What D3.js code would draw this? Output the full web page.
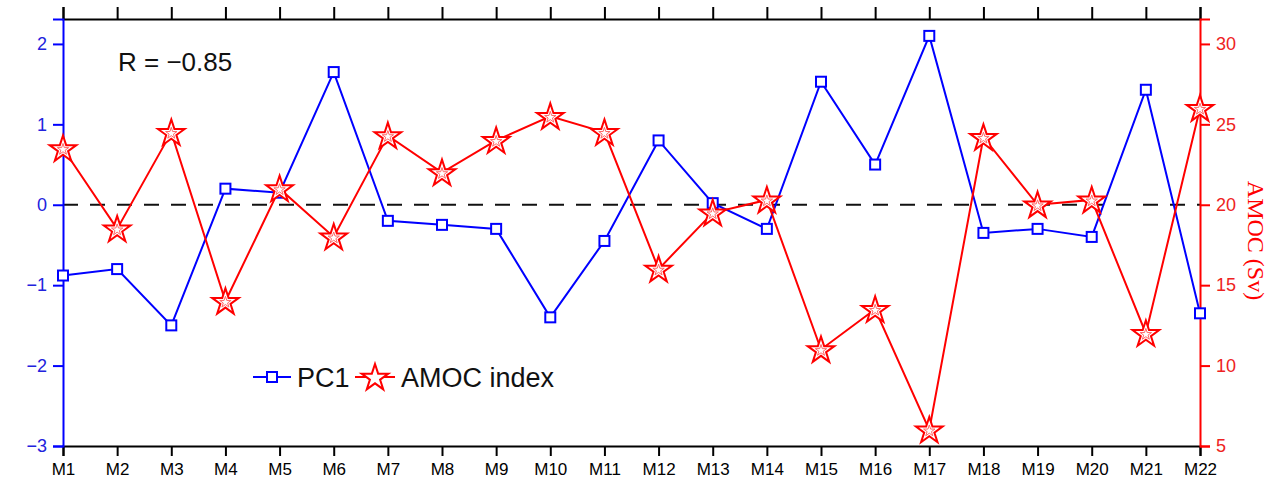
<!DOCTYPE html>
<html>
<head>
<meta charset="utf-8">
<script src="https://cdn.jsdelivr.net/npm/d3@7"></script>
<style>
  body { margin: 0; background: #fff; }
  svg { display: block; }
</style>
</head>
<body>
<div id="chart"></div>
<script>
// model names
const models = ["M1","M2","M3","M4","M5","M6","M7","M8","M9","M10","M11",
                "M12","M13","M14","M15","M16","M17","M18","M19","M20","M21","M22"];
// PC1 (left axis)
const pc1 = [-0.88, -0.8, -1.5, 0.2, 0.15, 1.65, -0.2, -0.25, -0.3, -1.4, -0.45,
             0.8, 0.02, -0.3, 1.53, 0.5, 2.1, -0.35, -0.3, -0.4, 1.43, -1.35];
// AMOC index in Sv (right axis)
const amoc = [23.5, 18.5, 24.5, 14, 21, 18, 24.3, 22, 24, 25.5, 24.5,
              16, 19.5, 20.3, 11, 13.5, 6, 24.2, 20, 20.3, 12, 26];
const leftTicks = [-3, -2, -1, 0, 1, 2];
const rightTicks = [5, 10, 15, 20, 25, 30];

const W = 1271, H = 483;
const margin = { top: 19, right: 71, bottom: 37, left: 63 };
const width = W - margin.left - margin.right;
const height = H - margin.top - margin.bottom;

const svg = d3.select("#chart").append("svg")
    .attr("width", W).attr("height", H);
const g = svg.append("g").attr("transform", `translate(${margin.left},${margin.top})`);

const x = d3.scalePoint().domain(models).range([0, width]);
const yL = d3.scaleLinear().domain([-3, 2.31]).range([height, 0]);
const yR = d3.scaleLinear().domain([5, 31.55]).range([height, 0]);

const font = "'Liberation Sans', Arial, sans-serif";

// zero line (dashed)
g.append("line")
    .attr("x1", 0).attr("x2", width)
    .attr("y1", yL(0)).attr("y2", yL(0))
    .attr("stroke", "#111").attr("stroke-width", 2)
    .attr("stroke-dasharray", "15,12");

// axes
const bottomAxis = g.append("g").attr("transform", `translate(0,${height})`)
    .call(d3.axisBottom(x).tickSize(10).tickPadding(7));
bottomAxis.select(".domain").attr("stroke", "#000").attr("stroke-width", 2);
bottomAxis.selectAll(".tick line").attr("stroke", "#000").attr("stroke-width", 2);
bottomAxis.selectAll("text").attr("font-family", font).attr("font-size", 17).attr("fill", "#000");

const topAxis = g.append("g")
    .call(d3.axisTop(x).tickSize(12).tickFormat(""));
topAxis.select(".domain").attr("stroke", "#000").attr("stroke-width", 2);
topAxis.selectAll(".tick line").attr("stroke", "#000").attr("stroke-width", 2);

const leftAxis = g.append("g")
    .call(d3.axisLeft(yL).tickValues(leftTicks).tickSize(10).tickPadding(6)
        .tickFormat(d => d < 0 ? "\u2212" + Math.abs(d) : d));
leftAxis.select(".domain").attr("stroke", "#0000ff").attr("stroke-width", 2);
leftAxis.selectAll(".tick line").attr("stroke", "#0000ff").attr("stroke-width", 2);
leftAxis.selectAll("text").attr("font-family", font).attr("font-size", 18).attr("fill", "#2222dd");

const rightAxis = g.append("g").attr("transform", `translate(${width},0)`)
    .call(d3.axisRight(yR).tickValues(rightTicks).tickSize(10).tickPadding(6));
rightAxis.select(".domain").attr("stroke", "#ff0000").attr("stroke-width", 2);
rightAxis.selectAll(".tick line").attr("stroke", "#ff0000").attr("stroke-width", 2);
rightAxis.selectAll("text").attr("font-family", font).attr("font-size", 18).attr("fill", "#ee2222");

// right axis title
svg.append("text")
    .attr("transform", `translate(1248,${margin.top + height / 2 + 8}) rotate(90)`)
    .attr("text-anchor", "middle")
    .attr("font-family", "'Liberation Serif', 'Times New Roman', serif")
    .attr("font-size", 24)
    .attr("fill", "#ff0000")
    .text("AMOC (Sv)");

// PC1 line + square markers
g.append("path")
    .datum(pc1)
    .attr("fill", "none").attr("stroke", "#0000ff").attr("stroke-width", 2)
    .attr("d", d3.line().x((d, i) => x(models[i])).y(d => yL(d)));

// AMOC line + star markers
g.append("path")
    .datum(amoc)
    .attr("fill", "none").attr("stroke", "#ff0000").attr("stroke-width", 2)
    .attr("d", d3.line().x((d, i) => x(models[i])).y(d => yR(d)));

const star = d3.symbol().type(d3.symbolStar).size(220);
const starInner = d3.symbol().type(d3.symbolStar).size(40);

g.selectAll(".sq").data(pc1).enter().append("rect")
    .attr("x", (d, i) => x(models[i]) - 5)
    .attr("y", d => yL(d) - 5)
    .attr("width", 10).attr("height", 10)
    .attr("fill", "#fff").attr("stroke", "#0000ff").attr("stroke-width", 2);

g.selectAll(".st").data(amoc).enter().append("path")
    .attr("transform", (d, i) => `translate(${x(models[i])},${yR(d) + 1})`)
    .attr("d", star)
    .attr("fill", "#fff").attr("stroke", "#ff0000").attr("stroke-width", 2);
g.selectAll(".st2").data(amoc).enter().append("path")
    .attr("transform", (d, i) => `translate(${x(models[i])},${yR(d) + 1})`)
    .attr("d", starInner)
    .attr("fill", "none").attr("stroke", "#ff6666").attr("stroke-width", 1);

// correlation label
svg.append("text")
    .attr("x", 118).attr("y", 71)
    .attr("font-family", font).attr("font-size", 26).attr("fill", "#111")
    .text("R = \u22120.85");

// legend
const lg = svg.append("g").attr("transform", "translate(253,377)");
lg.append("line").attr("x1", 0).attr("x2", 38).attr("y1", 0).attr("y2", 0)
    .attr("stroke", "#0000ff").attr("stroke-width", 2);
lg.append("rect").attr("x", 14).attr("y", -5).attr("width", 10).attr("height", 10)
    .attr("fill", "#fff").attr("stroke", "#0000ff").attr("stroke-width", 2);
lg.append("text").attr("x", 44).attr("y", 10)
    .attr("font-family", font).attr("font-size", 27).attr("fill", "#111").text("PC1");
lg.append("line").attr("x1", 102).attr("x2", 142).attr("y1", 0).attr("y2", 0)
    .attr("stroke", "#ff0000").attr("stroke-width", 2);
lg.append("path").attr("transform", "translate(122,1)").attr("d", star)
    .attr("fill", "#fff").attr("stroke", "#ff0000").attr("stroke-width", 2);
lg.append("text").attr("x", 148).attr("y", 10)
    .attr("font-family", font).attr("font-size", 27).attr("fill", "#111").text("AMOC index");
</script>
</body>
</html>
